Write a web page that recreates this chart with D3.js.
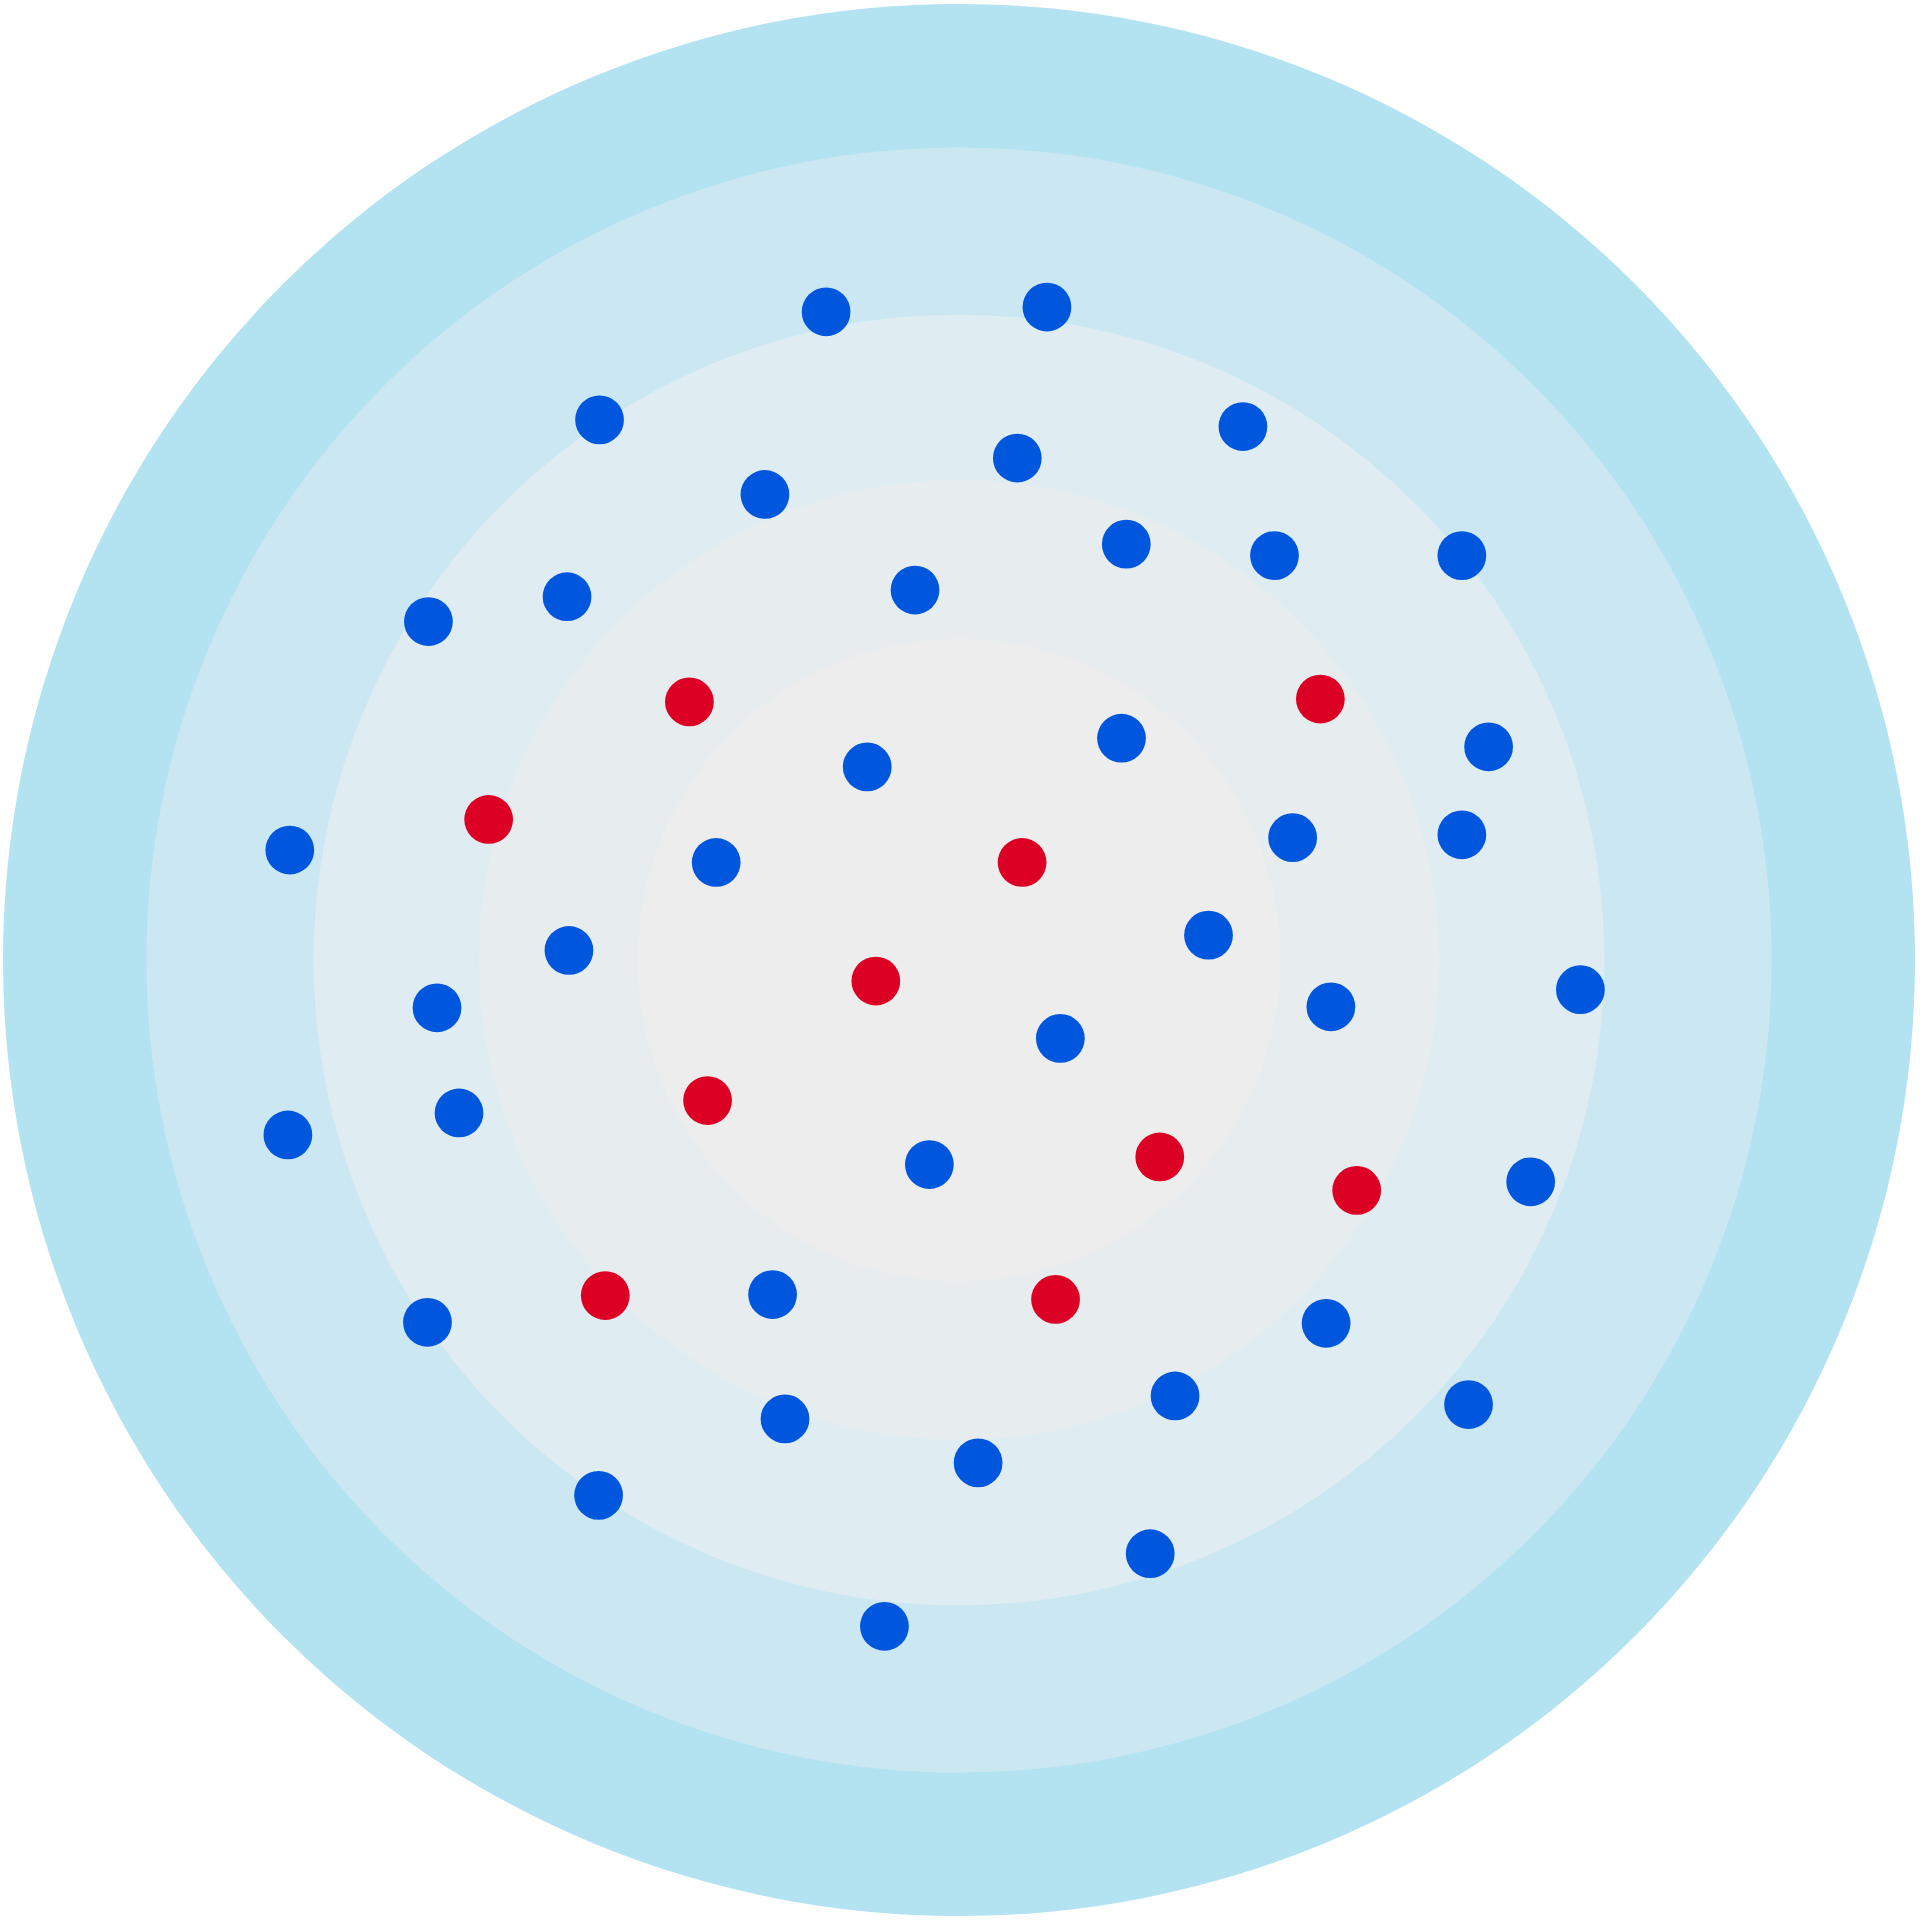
<!DOCTYPE html>
<html>
<head>
<meta charset="utf-8">
<script src="https://cdn.jsdelivr.net/npm/d3@7"></script>
<style>
  html, body { margin: 0; padding: 0; background: #ffffff; }
  svg { display: block; }
</style>
</head>
<body>
<svg id="chart" width="1920" height="1920"></svg>
<script>
// Ring boundaries (data units, outer edge = 100)
const ringRadii = [100, 85.0, 67.5, 50.2, 33.6];
const ringColors = ["#b3e2f1", "#cbe8f2", "#dfedf3", "#e7edef", "#ededed"];

// Blue points: x, y (y positive upward)
const blueX = [-13.9, 9.2, -37.6, 29.7, 6.1, -20.3, 17.5, 33.0, 52.6, -4.6,
               -41.0, -55.5, 17.0, 55.4, -9.6, 34.9, 52.6, -70.0, -25.4, 26.1,
               -40.8, 65.0, -54.6, 38.9, 10.6, -52.3, -70.2, -3.1, 59.8, -19.5,
               -55.6, 38.4, 22.6, 53.3, -18.2, 2.0, -37.7, 20.0, -7.8];
const blueY = [67.8, 68.3, 56.5, 55.8, 52.5, 48.7, 43.5, 42.3, 42.3, 38.7,
               38.0, 35.4, 23.2, 22.3, 20.2, 12.8, 13.1, 11.5, 10.2, 2.6,
               1.0, -3.1, -5.0, -4.9, -8.2, -16.0, -18.3, -21.4, -23.2, -35.0,
               -37.9, -38.0, -45.6, -46.5, -48.0, -52.6, -56.0, -62.1, -69.7];

// Red points
const redX = [-28.2, 37.8, -49.2, 6.6, -8.7, -26.3, 21.0, 41.6, -37.0, 10.1];
const redY = [27.0, 27.3, 14.7, 10.2, -2.2, -14.7, -20.6, -24.1, -35.1, -35.5];

const seriesColors = { blue: "#0057de", red: "#dd0025" };

const cx = 959, cy = 960, R = 956;
const svg = d3.select("#chart");

const x = d3.scaleLinear().domain([-100, 100]).range([cx - R, cx + R]);
const y = d3.scaleLinear().domain([-100, 100]).range([cy + R, cy - R]);
const r = d3.scaleLinear().domain([0, 100]).range([0, R]);

svg.append("g").selectAll("circle")
  .data(ringRadii.map((v, i) => ({ v, c: ringColors[i] })))
  .join("circle")
  .attr("cx", x(0))
  .attr("cy", y(0))
  .attr("r", d => r(d.v))
  .attr("fill", d => d.c);

const points = [
  ...blueX.map((v, i) => ({ x: v, y: blueY[i], s: "blue" })),
  ...redX.map((v, i) => ({ x: v, y: redY[i], s: "red" }))
];

svg.append("g").selectAll("circle")
  .data(points)
  .join("circle")
  .attr("cx", d => x(d.x))
  .attr("cy", d => y(d.y))
  .attr("r", r(2.55))
  .attr("fill", d => seriesColors[d.s]);
</script>
</body>
</html>
